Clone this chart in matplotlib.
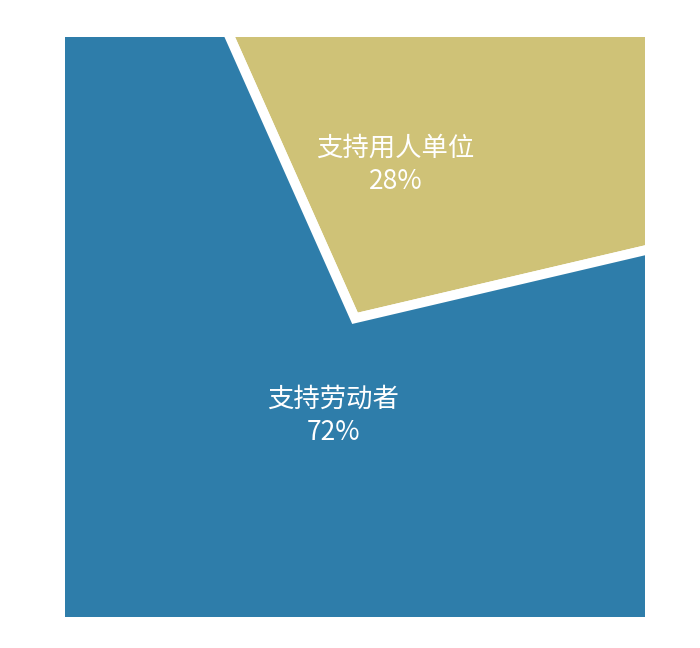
import matplotlib.pyplot as plt

plt.rcParams['font.family'] = ['Noto Sans CJK SC', 'DejaVu Sans']

labels = ['支持用人单位', '支持劳动者']
shares = [28, 72]
colors = ['#CFC277', '#2E7DAA']

fig = plt.figure(figsize=(7, 6.48), dpi=100)
ax = fig.add_axes([65 / 700, 31 / 648, 580 / 700, 580 / 648])

wedges, _ = ax.pie(shares, colors=colors, radius=3, startangle=114,
                   counterclock=False, center=(0, 0),
                   wedgeprops=dict(edgecolor='white', linewidth=7))
for w in wedges:
    w.set_clip_on(True)

ax.set_xlim(-1, 1)
ax.set_ylim(-1.03, 0.97)
ax.set_aspect('auto')
ax.axis('off')

# label positions inside each slice
label_pos = [(0.14, 0.53), (-0.075, -0.335)]
for lab, s, (x, y) in zip(labels, shares, label_pos):
    ax.text(x, y, f'{lab}\n{s}%', color='white', fontsize=19,
            ha='center', va='center', linespacing=1.3)

fig.savefig('out.png', dpi=100)
